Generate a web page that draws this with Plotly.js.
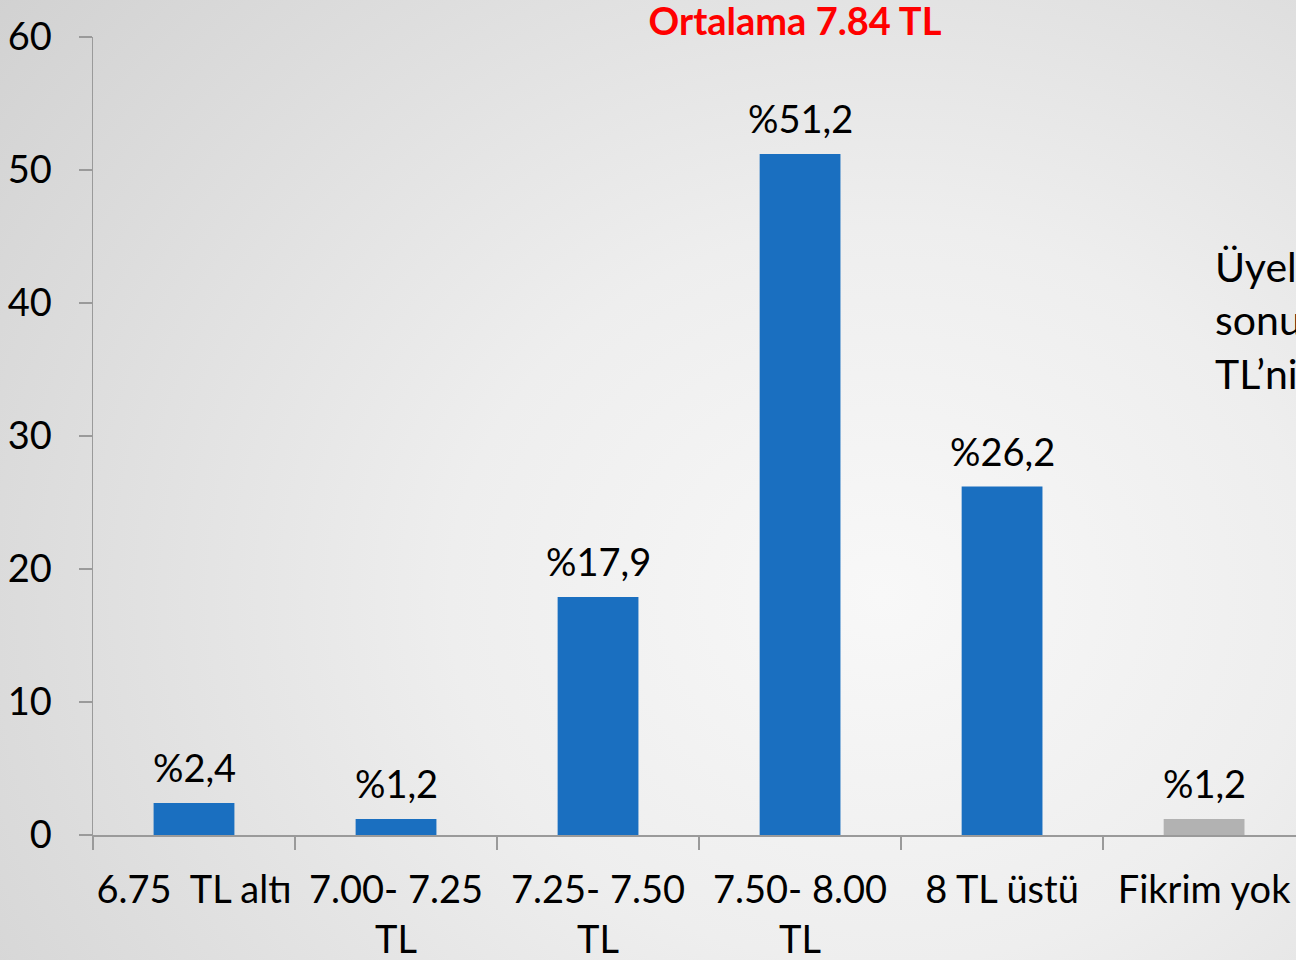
<!DOCTYPE html>
<html>
<head>
<meta charset="utf-8">
<script src="https://cdn.plot.ly/plotly-3.0.1.min.js"></script>
<style>
html,body{margin:0;padding:0;}
body{width:1296px;height:960px;overflow:hidden;
background:radial-gradient(ellipse 95% 110% at 68% 62%, #f8f8f8 0%, #eeeeee 35%, #dcdcdc 70%, #cdcdcd 100%);}
#chart{width:1296px;height:960px;}
</style>
</head>
<body>
<div id="chart"></div>
<script>
const categories = ["6.75  TL altı", "7.00- 7.25<br>TL", "7.25- 7.50<br>TL", "7.50- 8.00<br>TL", "8 TL üstü", "Fikrim yok"];
const values = [2.4, 1.2, 17.9, 51.2, 26.2, 1.2];
const barColors = ["#1a6fc0", "#1a6fc0", "#1a6fc0", "#1a6fc0", "#1a6fc0", "#b2b2b2"];
const yTicks = [0, 10, 20, 30, 40, 50, 60];
const titleText = "Ortalama 7.84 TL";
const sideText = "Üyel<br>sonu<br>TL’ni";

const labels = values.map(v => "%" + v.toFixed(1).replace(".", ","));
const FONT = "Lato, 'Open Sans', sans-serif";

const trace = {
  type: "bar",
  x: categories,
  y: values,
  marker: {color: barColors, line: {width: 0}},
  cliponaxis: false,
  hoverinfo: "none"
};

const labelAnnotations = categories.map((c, i) => ({
  x: c, y: values[i], xref: "x", yref: "y",
  text: labels[i], showarrow: false,
  xanchor: "center", yanchor: "middle", yshift: 36,
  font: {family: FONT, size: 38, color: "#000"}
}));

const layout = {
  width: 1296, height: 960,
  paper_bgcolor: "rgba(0,0,0,0)",
  plot_bgcolor: "rgba(0,0,0,0)",
  margin: {l: 93, r: 0, t: 37, b: 125, pad: 0},
  showlegend: false,
  bargap: 0.6,
  font: {family: FONT, color: "#000"},
  title: {
    text: "<b>" + titleText + "</b>",
    font: {family: FONT, size: 38, color: "#ff0000"},
    x: 795 / 1296, xref: "container", xanchor: "center",
    y: 1 - 22 / 960, yref: "container", yanchor: "middle"
  },
  xaxis: {
    type: "category",
    range: [-0.5, 5.455],
    tickson: "boundaries",
    tickangle: 0,
    ticks: "outside", ticklen: 13, tickwidth: 1.3, tickcolor: "#9a9a9a",
    showline: true, linecolor: "#9a9a9a", linewidth: 1.5,
    showgrid: false, zeroline: false,
    tickfont: {family: FONT, size: 38, color: "#000"},
    ticklabelstandoff: 21,
    fixedrange: true
  },
  yaxis: {
    range: [0, 60],
    tickvals: yTicks,
    ticks: "outside", ticklen: 13, tickwidth: 1.3, tickcolor: "#9a9a9a",
    showline: true, linecolor: "#9a9a9a", linewidth: 1.5,
    showgrid: false, zeroline: false,
    tickfont: {family: FONT, size: 38, color: "#000"},
    ticklabelstandoff: 19,
    fixedrange: true
  },
  annotations: labelAnnotations.concat([{
    text: sideText,
    xref: "paper", yref: "paper",
    x: (1213 - 93) / (1296 - 93), y: (835 - 240) / 798,
    xanchor: "left", yanchor: "top", align: "left",
    showarrow: false,
    font: {family: FONT, size: 41, color: "#000"}
  }])
};

Plotly.newPlot("chart", [trace], layout, {displayModeBar: false, staticPlot: true});
</script>
</body>
</html>
